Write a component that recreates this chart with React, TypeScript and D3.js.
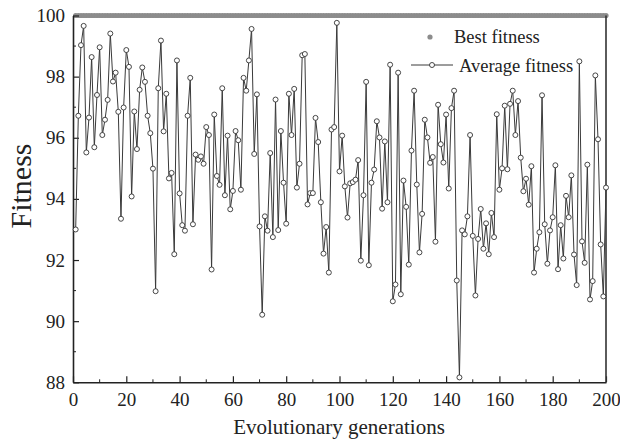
import React, { useEffect, useRef } from "react";
import * as d3 from "d3";

// Average fitness per generation (generations 1..200)
const averageFitness = [
  93.0, 96.72, 99.03, 99.66, 95.52, 96.66, 98.64, 95.69, 97.4, 98.96,
  96.09, 96.59, 97.24, 99.41, 97.84, 98.13, 96.85, 93.35, 96.99, 98.87,
  98.32, 94.08, 96.86, 95.63, 97.57, 98.3, 97.83, 96.72, 96.15, 94.99,
  90.98, 97.62, 99.18, 96.21, 97.44, 94.67, 94.85, 92.19, 98.53, 94.18,
  93.14, 92.96, 96.72, 97.96, 93.17, 95.45, 95.28, 95.39, 95.15, 96.35,
  96.09, 91.69, 96.76, 94.75, 94.46, 97.62, 94.12, 96.07, 93.66, 94.26,
  96.22, 95.92, 94.3, 97.96, 97.54, 98.53, 99.56, 95.47, 97.42, 93.1,
  90.21, 93.43, 92.96, 95.5, 92.75, 97.25, 92.98, 96.22, 94.53, 93.19,
  97.44, 96.09, 97.6, 94.37, 95.15, 98.7, 98.74, 93.82, 94.19, 94.19,
  96.65, 95.86, 93.89, 92.21, 93.08, 91.59, 96.27, 96.35, 99.76, 94.9,
  96.07, 94.41, 93.39, 94.51, 94.55, 94.63, 95.27, 91.98, 94.12, 97.83,
  91.83, 94.53, 94.96, 96.54, 96.01, 93.68, 95.88, 93.89, 98.39, 90.65,
  91.2, 98.13, 90.88, 94.6, 93.74, 91.85, 95.58, 97.54, 94.47, 92.25,
  93.51, 96.59, 96.01, 95.18, 95.37, 92.6, 97.08, 95.79, 95.19, 96.76,
  94.34, 96.97, 97.54, 91.33, 88.16, 92.97, 92.84, 93.43, 96.09, 92.79,
  90.84, 92.69, 93.67, 92.37, 93.2, 92.19, 93.54, 92.75, 96.77, 94.3,
  95.0, 97.05, 94.97, 97.11, 97.54, 96.09, 97.2, 95.35, 94.25, 94.66,
  93.81, 95.07, 91.59, 92.37, 92.91, 97.39, 93.17, 91.88, 92.97, 93.4,
  95.1, 91.7, 93.14, 92.05, 94.1, 93.4, 94.77, 92.18, 91.18, 98.5,
  92.61, 91.91, 95.12, 90.71, 91.31, 98.04, 95.95, 92.51, 90.81, 94.37,
];

// Best fitness stays at 100 for every generation
const bestFitness = Array(200).fill(100);

const xTicks = [0, 20, 40, 60, 80, 100, 120, 140, 160, 180, 200];
const xMinorTicks = [10, 30, 50, 70, 90, 110, 130, 150, 170, 190];
const yTicks = [88, 90, 92, 94, 96, 98, 100];
const yMinorTicks = [89, 91, 93, 95, 97, 99];

const W = 620;
const H = 439;
const FONT = "'Liberation Serif', 'Times New Roman', serif";

export default function App() {
  const ref = useRef<SVGSVGElement>(null);

  useEffect(() => {
    const svg = d3.select(ref.current);
    svg.selectAll("*").remove();

    const x = d3.scaleLinear().domain([0, 200]).range([73, 606]);
    const y = d3.scaleLinear().domain([88, 100]).range([382.3, 15.5]);

    const avg = averageFitness.map((v, i) => [i + 1, v] as [number, number]);
    const best = bestFitness.map((v, i) => [i + 1, v] as [number, number]);

    // best fitness dots (merge into a thick gray band)
    svg
      .append("g")
      .selectAll("circle")
      .data(best)
      .join("circle")
      .attr("cx", (d) => x(d[0]))
      .attr("cy", (d) => y(d[1]))
      .attr("r", 2.6)
      .attr("fill", "#8c8c8c");

    // axes (ticks point inward)
    const xAxis = svg
      .append("g")
      .attr("transform", `translate(0, ${y(88)})`)
      .call(
        d3.axisBottom(x).tickValues(xTicks).tickFormat(d3.format("d")).tickSizeInner(-6).tickSizeOuter(0).tickPadding(10)
      );
    xAxis
      .append("g")
      .selectAll("line")
      .data(xMinorTicks)
      .join("line")
      .attr("x1", (d) => x(d))
      .attr("x2", (d) => x(d))
      .attr("y1", 0)
      .attr("y2", -3)
      .attr("stroke", "#222");

    const yAxis = svg
      .append("g")
      .attr("transform", `translate(${x(0)}, 0)`)
      .call(
        d3.axisLeft(y).tickValues(yTicks).tickFormat(d3.format("d")).tickSizeInner(-6).tickSizeOuter(0).tickPadding(8)
      );
    yAxis
      .append("g")
      .selectAll("line")
      .data(yMinorTicks)
      .join("line")
      .attr("y1", (d) => y(d))
      .attr("y2", (d) => y(d))
      .attr("x1", 0)
      .attr("x2", 3)
      .attr("stroke", "#222");

    [xAxis, yAxis].forEach((g) => {
      g.select(".domain").attr("stroke", "#222").attr("stroke-width", 1.6);
      g.selectAll(".tick line").attr("stroke", "#222").attr("stroke-width", 1.2);
      g.selectAll("text")
        .attr("font-family", FONT)
        .attr("font-size", 19)
        .attr("fill", "#222");
    });

    // right border
    svg
      .append("line")
      .attr("x1", x(200))
      .attr("x2", x(200))
      .attr("y1", y(100))
      .attr("y2", y(88))
      .attr("stroke", "#333")
      .attr("stroke-width", 1.6);

    // average fitness line + open circles
    const line = d3
      .line<[number, number]>()
      .x((d) => x(d[0]))
      .y((d) => y(d[1]));

    svg
      .append("path")
      .datum(avg)
      .attr("fill", "none")
      .attr("stroke", "#3a3a3a")
      .attr("stroke-width", 1)
      .attr("d", line);

    svg
      .append("g")
      .selectAll("circle")
      .data(avg)
      .join("circle")
      .attr("cx", (d) => x(d[0]))
      .attr("cy", (d) => y(d[1]))
      .attr("r", 2.5)
      .attr("fill", "#fff")
      .attr("stroke", "#333")
      .attr("stroke-width", 0.9);

    // axis labels
    svg
      .append("text")
      .attr("x", 339)
      .attr("y", 434)
      .attr("text-anchor", "middle")
      .attr("font-family", FONT)
      .attr("font-size", 21)
      .attr("fill", "#222")
      .text("Evolutionary generations");

    svg
      .append("text")
      .attr("transform", "rotate(-90)")
      .attr("x", -186)
      .attr("y", 31)
      .attr("text-anchor", "middle")
      .attr("font-family", FONT)
      .attr("font-size", 30)
      .attr("fill", "#222")
      .text("Fitness");

    // legend
    const legend = svg.append("g");
    legend.append("circle").attr("cx", 430).attr("cy", 37).attr("r", 2.6).attr("fill", "#8c8c8c");
    legend
      .append("text")
      .attr("x", 454)
      .attr("y", 42.5)
      .attr("font-family", FONT)
      .attr("font-size", 18.5)
      .attr("fill", "#222")
      .text("Best fitness");
    legend
      .append("line")
      .attr("x1", 411)
      .attr("x2", 453)
      .attr("y1", 65)
      .attr("y2", 65)
      .attr("stroke", "#3a3a3a")
      .attr("stroke-width", 1);
    legend
      .append("circle")
      .attr("cx", 432)
      .attr("cy", 65)
      .attr("r", 2.5)
      .attr("fill", "#fff")
      .attr("stroke", "#333")
      .attr("stroke-width", 0.9);
    legend
      .append("text")
      .attr("x", 459)
      .attr("y", 71.5)
      .attr("font-family", FONT)
      .attr("font-size", 18.5)
      .attr("fill", "#222")
      .text("Average fitness");
  }, []);

  return (
    <svg
      ref={ref}
      width={W}
      height={H}
      style={{ position: "absolute", left: 0, top: 0, background: "#fff" }}
    />
  );
}
